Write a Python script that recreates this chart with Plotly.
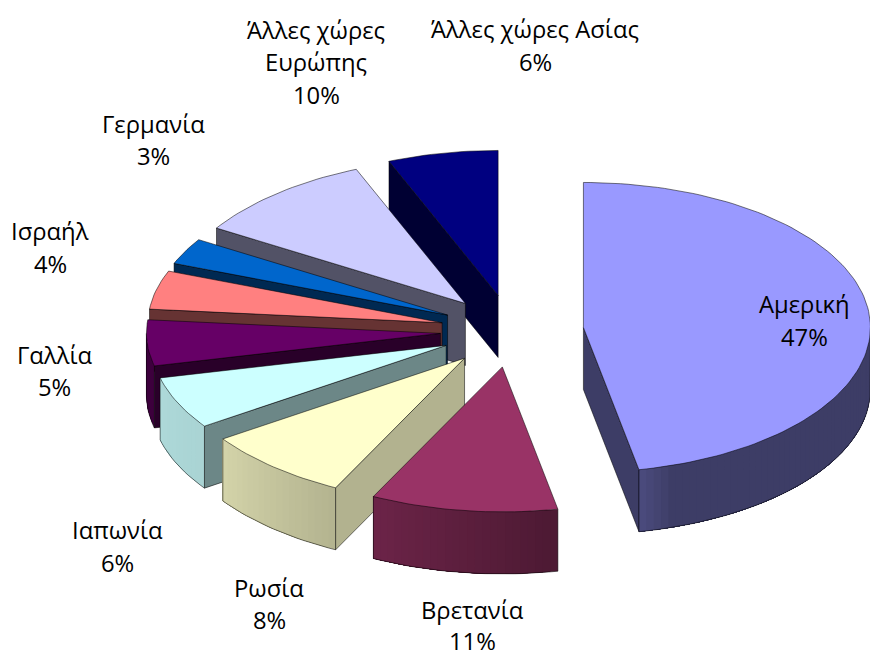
import math
import plotly.graph_objects as go

# values, printed labels are rounded
paises = ["Αμερική", "Βρετανία", "Ρωσία", "Ιαπωνία", "Γαλλία", "Ισραήλ", "Γερμανία", "Άλλες χώρες Ευρώπης", "Άλλες χώρες Ασίας"]
values = [46.9, 10.5, 8.2, 5.8, 5.1, 4.3, 2.9, 10.1, 6.2]
percent = ["47%", "11%", "8%", "6%", "5%", "4%", "3%", "10%", "6%"]
colors = ["#9999FF", "#993366", "#FFFFCC", "#CCFFFF", "#660066", "#FF8080", "#0066CC", "#CCCCFF", "#000080"]

# shading of the radial walls, per slice
face_shade = [0.4, 0.4, 0.7, 0.53, 0.4, 0.4, 0.4, 0.4, 0.4]
# shading of the outer rim, by angle clockwise from the top
rim_angles = [90, 162, 169, 206, 236, 256.5, 256.6, 270]
rim_shades = [0.4, 0.4, 0.5, 0.7, 0.83, 0.85, 0.6, 0.6]

# pie geometry on the 870x652 axes
cx, cy = 512, 331
rx, ry = 287, 145
left_stretch = 7
depth = 62
pull = 0.25

# text lines of each label with their positions
label_lines = [
    ("Αμερική", 804, 304), ("47%", 804, 337),
    ("Βρετανία", 472, 610), ("11%", 472, 641),
    ("Ρωσία", 269, 588), ("8%", 269, 620),
    ("Ιαπωνία", 117, 530), ("6%", 117, 563),
    ("Γαλλία", 54, 355), ("5%", 54, 387),
    ("Ισραήλ", 50, 231), ("4%", 50, 264),
    ("Γερμανία", 153, 124), ("3%", 153, 156),
    ("Άλλες χώρες", 316, 30), ("Ευρώπης", 316, 62), ("10%", 316, 95),
    ("Άλλες χώρες Ασίας", 535, 29), ("6%", 535, 62),
]


def shade(hex_color, k):
    r, g, b = [int(hex_color[i:i + 2], 16) for i in (1, 3, 5)]
    return f"rgb({r * k:.0f},{g * k:.0f},{b * k:.0f})"


def rim_shade(deg):
    for j in range(len(rim_angles) - 1):
        if deg <= rim_angles[j + 1]:
            f = (deg - rim_angles[j]) / (rim_angles[j + 1] - rim_angles[j])
            return rim_shades[j] + (rim_shades[j + 1] - rim_shades[j]) * f
    return rim_shades[-1]


def rim_point(tip, deg, down=0):
    t = math.radians(deg)
    s = math.sin(t)
    # the perspective of the original widens the far left of the pie a little
    extra = -left_stretch * s ** 4 if s < 0 else 0
    return tip[0] + rx * s + extra, tip[1] - ry * math.cos(t) + down


fig = go.Figure()


def poly(points, fill, line=None):
    xs = [p[0] for p in points] + [points[0][0]]
    ys = [p[1] for p in points] + [points[0][1]]
    fig.add_trace(go.Scatter(
        x=xs, y=ys, mode="lines", fill="toself", fillcolor=fill,
        line=dict(color=line or fill, width=0.8 if line else 0), hoverinfo="skip", showlegend=False,
    ))


def arc(tip, a, b, down=0):
    n = max(2, int(abs(b - a) / 1.5) + 1)
    return [rim_point(tip, a + (b - a) * i / n, down) for i in range(n + 1)]


EDGE = "rgba(0,0,0,0.65)"
total = sum(values)
slices = []
start = 0
for i, v in enumerate(values):
    end = start + v / total * 360
    slices.append((i, start, end))
    start = end

# back slices first
slices.sort(key=lambda s: -math.cos(math.radians((s[1] + s[2]) / 2)))

for i, a, b in slices:
    mid = math.radians((a + b) / 2)
    tip = (cx + pull * rx * math.sin(mid), cy - pull * ry * math.cos(mid))
    col = colors[i]
    tip_low = (tip[0], tip[1] + depth)

    if math.sin(math.radians(b)) > 0:
        poly([tip, rim_point(tip, b), rim_point(tip, b, depth), tip_low], shade(col, face_shade[i]), EDGE)
    if math.sin(math.radians(a)) < 0:
        poly([tip, rim_point(tip, a), rim_point(tip, a, depth), tip_low], shade(col, face_shade[i]), EDGE)

    ra, rb = max(a, 90), min(b, 270)
    if rb > ra:
        n = max(2, int((rb - ra) / 1.5))
        # each strip runs on to the end of the rim, so no seams show between strips
        for k in range(n):
            d0 = ra + (rb - ra) * k / n
            d1 = ra + (rb - ra) * (k + 1) / n
            band = arc(tip, d0, rb) + arc(tip, rb, d0, depth)
            poly(band, shade(col, rim_shade((d0 + d1) / 2)))
        outline = [rim_point(tip, ra)] + arc(tip, ra, rb, depth) + [rim_point(tip, rb)]
        fig.add_trace(go.Scatter(
            x=[p[0] for p in outline], y=[p[1] for p in outline],
            mode="lines", line=dict(color=EDGE, width=0.8), hoverinfo="skip", showlegend=False,
        ))

    poly([tip] + arc(tip, a, b), col, EDGE)

for text, x, y in label_lines:
    fig.add_annotation(
        x=x, y=y, text=text, showarrow=False, xanchor="center", yanchor="middle",
        font=dict(family="Open Sans", size=23.8, color="black"),
    )

fig.update_xaxes(range=[0, 870], visible=False)
fig.update_yaxes(range=[652, 0], visible=False)
fig.update_layout(
    width=870, height=652, margin=dict(l=0, r=0, t=0, b=0),
    plot_bgcolor="white", paper_bgcolor="white", showlegend=False,
)

fig.write_html("out.html", config={"displayModeBar": False}, post_script="document.body.style.margin='0';")
